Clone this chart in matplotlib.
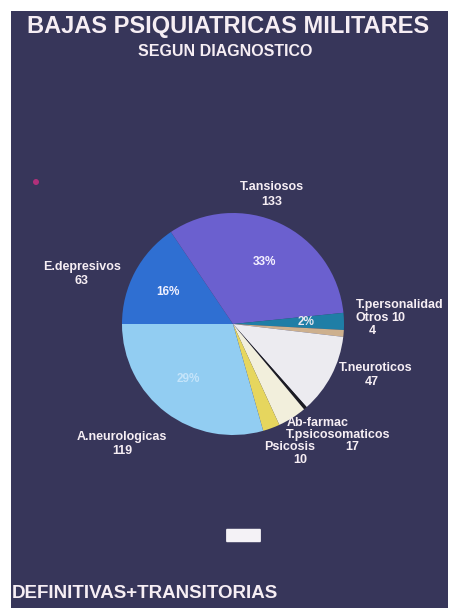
import matplotlib.pyplot as plt
from matplotlib.patches import Rectangle, FancyBboxPatch, Ellipse
import numpy as np

plt.rcParams.update({
    "font.family": ["Liberation Sans", "DejaVu Sans"],
    "font.weight": "bold",
})

# Psychiatric discharges by diagnosis, clockwise from the left
labels = ["E.depresivos", "T.ansiosos", "T.personalidad", "Otros", "T.neuroticos",
          "Ab-farmac", "T.psicosomaticos", "Psicosis", "A.neurologicas"]
values = [63, 133, 10, 4, 47, 2, 17, 10, 119]
colors = ["#2f6fd2", "#6b60cf", "#1f7ea6", "#cdb08e", "#ecebf0",
          "#1c1c22", "#f2efdc", "#e6d65e", "#92cdf2"]

# which slices carry a percentage inside the pie
pct_shown = ["E.depresivos", "T.ansiosos", "T.personalidad", "A.neurologicas"]
pct_colors = {"E.depresivos": "#f0f0ff", "T.ansiosos": "#f4f0ff",
              "T.personalidad": "#e8e8f0", "A.neurologicas": "#c4e4fa"}

W, H = 452, 608
BG = "#37365a"
TXT = "#f6eef4"

fig = plt.figure(figsize=(W / 100, H / 100), dpi=100)
fig.patch.set_facecolor("white")
fig.patches.append(Rectangle((11 / W, 0), (448 - 11) / W, (H - 11) / H,
                             transform=fig.transFigure, facecolor=BG,
                             edgecolor="none", zorder=0))


def px(x, y):
    return x / W, 1 - y / H


def label(x, y, s, size=9, ha="center", color=TXT):
    fig.text(*px(x, y), s, ha=ha, va="center", fontsize=size,
             color=color, fontweight="bold", zorder=5)


# pie, centre about (233, 324) px, radius 111 px
cx, cy, r = 233, 324, 111
ax = fig.add_axes([(cx - r) / W, (H - cy - r) / H, 2 * r / W, 2 * r / H])
ax.set_zorder(3)
ax.set_facecolor("none")
wedges, _ = ax.pie(values, colors=colors, startangle=180, counterclock=False,
                   radius=1, wedgeprops=dict(linewidth=0))
ax.set_xlim(-1, 1)
ax.set_ylim(-1, 1)
ax.set_aspect("equal")
ax.axis("off")

total = sum(values)
for w, name, v in zip(wedges, labels, values):
    if name not in pct_shown:
        continue
    mid = np.deg2rad((w.theta1 + w.theta2) / 2)
    ax.text(0.66 * np.cos(mid), 0.62 * np.sin(mid), f"{round(100 * v / total)}%",
            ha="center", va="center", fontsize=8.5, fontweight="bold",
            color=pct_colors[name])

val = dict(zip(labels, values))

# titles
label(228, 27, "BAJAS PSIQUIATRICAS MILITARES", size=17)
label(225, 51, "SEGUN DIAGNOSTICO", size=11.5)
label(12, 593, "DEFINITIVAS+TRANSITORIAS", size=13.5, ha="left")

# slice labels outside the pie
label(272, 187, "T.ansiosos")
label(272, 202, str(val["T.ansiosos"]))
label(82, 267, "E.depresivos")
label(82, 281, str(val["E.depresivos"]))
label(122, 437, "A.neurologicas")
label(122, 451, str(val["A.neurologicas"]))
label(356, 305, "T.personalidad", ha="left")
label(356, 318, "Otros", ha="left")
label(391, 318, str(val["T.personalidad"]), ha="left")
label(372, 331, str(val["Otros"]))
label(376, 368, "T.neuroticos")
label(372, 382, str(val["T.neuroticos"]))
label(318, 423, "Ab-farmac")
label(338, 435, "T.psicosomaticos")
label(290, 447, "Psicosis")
label(352, 447, str(val["T.psicosomaticos"]))
label(300, 460, str(val["Psicosis"]))

# small white mark near the bottom and a stray pink dot
fig.patches.append(FancyBboxPatch((227 / W, 1 - 541 / H), 33 / W, 11 / H,
                                  boxstyle="round,pad=0.002",
                                  transform=fig.transFigure, facecolor="#f4f2f6",
                                  edgecolor="none", zorder=1))
fig.patches.append(Ellipse(px(36, 182), 6 / W, 6 / H, transform=fig.transFigure,
                           facecolor="#b0307a", edgecolor="none", zorder=1))

fig.savefig("out.png", dpi=100, facecolor=fig.get_facecolor())
